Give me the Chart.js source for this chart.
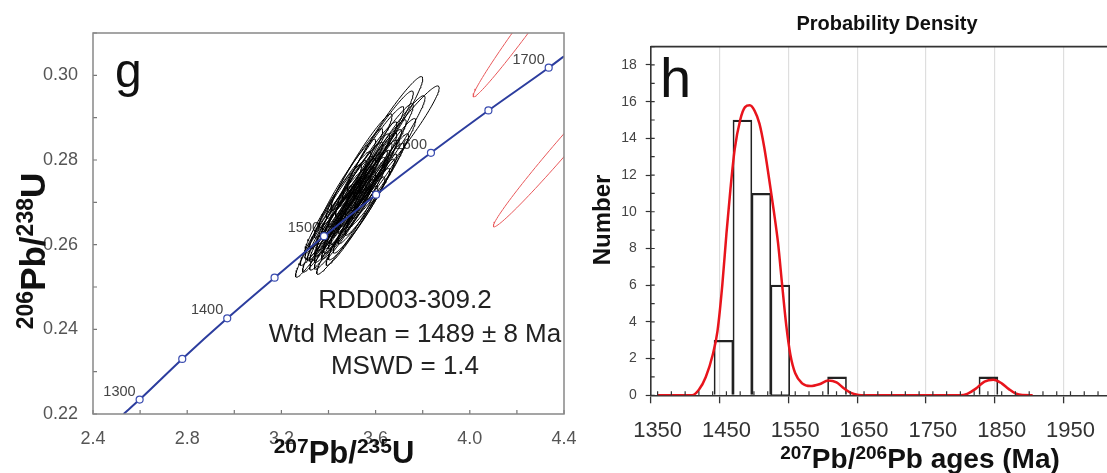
<!DOCTYPE html>
<html>
<head>
<meta charset="utf-8">
<script src="https://cdn.jsdelivr.net/npm/chart.js@4.4.1/dist/chart.umd.min.js"></script>
<style>
  html, body { margin: 0; padding: 0; background: #fff; overflow: hidden; }
  #wrap { position: relative; width: 1107px; height: 473px; overflow: hidden; }
  #concordia { position: absolute; left: 0; top: 0; }
  #histo { position: absolute; left: 585px; top: 0; }
</style>
</head>
<body>
<div id="wrap">
  <canvas id="concordia" width="585" height="473"></canvas>
  <canvas id="histo" width="522" height="473"></canvas>
</div>
<script>
// ---- panel g : concordia diagram ----
const concAges = [1300, 1350, 1400, 1450, 1500, 1550, 1600, 1650, 1700];
const concX = [2.598, 2.779, 2.970, 3.171, 3.381, 3.602, 3.835, 4.079, 4.335];
const concY = [0.2234, 0.2330, 0.2426, 0.2522, 0.2620, 0.2718, 0.2817, 0.2917, 0.3018];
const concStart = [2.53, 0.2200];
const concEnd = [4.40, 0.3045];

// analysed grains (2 sigma ellipses): 207Pb/235U, 206Pb/238U and their errors
const grainX = [3.40, 3.47, 3.44, 3.50, 3.41, 3.46, 3.52, 3.43, 3.49, 3.47,
                3.54, 3.44, 3.51, 3.49, 3.56, 3.46, 3.53, 3.58, 3.50, 3.55,
                3.48, 3.60, 3.53, 3.57, 3.51, 3.62, 3.56, 3.60, 3.54, 3.64,
                3.58, 3.62, 3.64, 3.70, 3.61, 3.66, 3.45, 3.52, 3.48, 3.55,
                3.50, 3.57, 3.42, 3.39, 3.37, 3.46, 3.59, 3.53, 3.47, 3.43];
const grainY = [0.2630, 0.2628, 0.2640, 0.2645, 0.2652, 0.2660, 0.2662, 0.2672, 0.2675, 0.2685,
                0.2680, 0.2695, 0.2698, 0.2708, 0.2702, 0.2718, 0.2720, 0.2718, 0.2732, 0.2738,
                0.2745, 0.2740, 0.2752, 0.2760, 0.2768, 0.2762, 0.2778, 0.2785, 0.2795, 0.2790,
                0.2808, 0.2815, 0.2862, 0.2850, 0.2835, 0.2830, 0.2668, 0.2690, 0.2660, 0.2725,
                0.2715, 0.2745, 0.2685, 0.2645, 0.2618, 0.2640, 0.2768, 0.2700, 0.2705, 0.2656];
const grainSx = [0.11, 0.12, 0.12, 0.11, 0.10, 0.12, 0.12, 0.13, 0.11, 0.12,
                 0.12, 0.12, 0.13, 0.11, 0.12, 0.12, 0.12, 0.11, 0.13, 0.12,
                 0.12, 0.12, 0.13, 0.12, 0.12, 0.12, 0.13, 0.13, 0.13, 0.13,
                 0.14, 0.14, 0.16, 0.17, 0.15, 0.15, 0.11, 0.12, 0.11, 0.11,
                 0.12, 0.12, 0.12, 0.11, 0.11, 0.12, 0.12, 0.12, 0.12, 0.11];
const grainSy = [0.0095, 0.0098, 0.0100, 0.0094, 0.0090, 0.0102, 0.0098, 0.0106, 0.0096, 0.0100,
                 0.0100, 0.0104, 0.0108, 0.0096, 0.0100, 0.0102, 0.0104, 0.0096, 0.0110, 0.0102,
                 0.0104, 0.0100, 0.0110, 0.0104, 0.0106, 0.0100, 0.0112, 0.0110, 0.0114, 0.0108,
                 0.0118, 0.0118, 0.0135, 0.0125, 0.0128, 0.0122, 0.0096, 0.0100, 0.0094, 0.0098,
                 0.0100, 0.0102, 0.0104, 0.0094, 0.0095, 0.0098, 0.0104, 0.0100, 0.0104, 0.0096];
const grainRho = 0.962;

// rejected grains (red)
const rejX = [4.26, 4.40];
const rejY = [0.3135, 0.2835];
const rejSx = [0.246, 0.30];
const rejSy = [0.0186, 0.0193];
const rejRho = 0.99;

const gXLabels = [2.4, 2.8, 3.2, 3.6, 4.0, 4.4];
const gYLabels = [0.22, 0.24, 0.26, 0.28, 0.30];

// ---- panel h : histogram + probability density ----
const binCenters = [1445.75, 1473.25, 1500.75, 1528.25, 1555.75, 1583.25, 1610.75, 1638.25,
                    1665.75, 1693.25, 1720.75, 1748.25, 1775.75, 1803.25, 1830.75];
const binCounts = [3, 15, 11, 6, 0, 0, 1, 0, 0, 0, 0, 0, 0, 0, 1];

const pdfAges = [1350, 1400, 1410, 1420, 1430, 1437, 1444, 1450, 1456, 1462, 1470, 1477, 1484, 1491, 1498, 1505, 1512, 1519,
                 1525, 1531, 1537, 1543, 1550, 1560, 1572, 1585, 1598, 1610, 1620, 1630, 1642, 1650, 1790, 1800, 1812,
                 1825, 1838, 1850, 1860, 1870, 1880, 1895];
const pdfValues = [0, 0, 0.3, 1.0, 2.2, 3.5, 6.0, 8.8, 11.3, 13.4, 15.0, 15.7, 15.8, 15.5, 14.8, 13.5, 11.8, 10.0,
                   8.3, 6.0, 3.8, 2.2, 1.2, 0.65, 0.5, 0.6, 0.8, 0.7, 0.4, 0.15, 0.02, 0, 0, 0.08, 0.35,
                   0.75, 0.85, 0.65, 0.35, 0.1, 0.01, 0];

const hXLabels = [1350, 1450, 1550, 1650, 1750, 1850, 1950];
const hYLabels = [0, 2, 4, 6, 8, 10, 12, 14, 16, 18];

const FAMILY = '"Liberation Sans", Arial, sans-serif';
Chart.defaults.font.family = FAMILY;
const CLEAR = 'rgba(0,0,0,0)';

function ellipsePoints(cx, cy, sx, sy, rho) {
  const pts = [], phi = Math.acos(rho);
  for (let i = 0; i <= 120; i++) {
    const t = i / 120 * 2 * Math.PI;
    pts.push({x: cx + sx * Math.cos(t), y: cy + sy * Math.cos(t - phi)});
  }
  return pts;
}

function hasLabel(list, v) {
  return list.some(l => Math.abs(l - v) < 1e-6);
}

// keep the plot area where the layout padding puts it
function noOverflow(s) {
  s.paddingLeft = 0; s.paddingRight = 0; s.paddingTop = 0; s.paddingBottom = 0;
}

// text with superscript parts
function drawRich(ctx, item) {
  const weight = item.weight || 'normal';
  const segs = item.parts.map(p => {
    const font = `${weight} ${p.sup ? item.sup : item.size}px ${FAMILY}`;
    ctx.font = font;
    return {text: p.t, sup: p.sup, font, width: ctx.measureText(p.t).width};
  });
  const total = segs.reduce((s, g) => s + g.width, 0);
  ctx.save();
  ctx.translate(item.x, item.y);
  if (item.rotate) ctx.rotate(item.rotate);
  ctx.fillStyle = item.color || '#000';
  ctx.textBaseline = 'alphabetic';
  ctx.textAlign = 'left';
  let x = item.align === 'left' ? 0 : -total / 2;
  segs.forEach(g => {
    ctx.font = g.font;
    ctx.fillText(g.text, x, g.sup ? -item.size * 0.33 : 0);
    x += g.width;
  });
  ctx.restore();
}

const textPlugin = {
  id: 'texts',
  afterDraw(chart, args, opts) {
    (opts.items || []).forEach(it => drawRich(chart.ctx, it));
  }
};

const innerTicks = {
  id: 'innerTicks',
  afterDraw(chart, args, opts) {
    const {ctx, chartArea: a, scales} = chart;
    ctx.save();
    ctx.strokeStyle = opts.color;
    ctx.lineWidth = opts.width;
    ctx.beginPath();
    scales.x.ticks.forEach(t => {
      const p = scales.x.getPixelForValue(t.value);
      ctx.moveTo(p, a.bottom); ctx.lineTo(p, a.bottom - opts.length);
    });
    scales.y.ticks.forEach(t => {
      const p = scales.y.getPixelForValue(t.value);
      ctx.moveTo(a.left, p); ctx.lineTo(a.left + opts.length, p);
    });
    ctx.stroke();
    ctx.restore();
  }
};

const frame = {
  id: 'frame',
  afterDraw(chart, args, opts) {
    const {ctx, chartArea: a} = chart;
    ctx.save();
    ctx.strokeStyle = opts.color;
    ctx.lineWidth = opts.width;
    ctx.beginPath();
    if (opts.full) {
      ctx.rect(a.left, a.top, a.right - a.left, a.bottom - a.top);
    } else {
      ctx.moveTo(a.left, a.top); ctx.lineTo(a.right, a.top);
    }
    ctx.stroke();
    ctx.restore();
  }
};

// age labels next to the concordia markers
const ageLabels = {
  id: 'ageLabels',
  beforeDatasetsDraw(chart) {
    const {ctx, scales} = chart;
    ctx.save();
    ctx.font = `14.5px ${FAMILY}`;
    ctx.fillStyle = '#444';
    ctx.textAlign = 'right';
    ctx.textBaseline = 'middle';
    concAges.forEach((age, i) => {
      if (age % 100 !== 0) return;
      const px = scales.x.getPixelForValue(concX[i]);
      const py = scales.y.getPixelForValue(concY[i]);
      ctx.fillText(String(age), px - 4, py - 8);
    });
    ctx.restore();
  }
};

// ---------- chart g ----------
const concData = [{x: concStart[0], y: concStart[1]}]
  .concat(concX.map((x, i) => ({x, y: concY[i]})))
  .concat([{x: concEnd[0], y: concEnd[1]}]);

const gDatasets = [{
  label: 'Concordia',
  data: concData,
  showLine: true,
  borderColor: '#2c3d9e',
  borderWidth: 2,
  cubicInterpolationMode: 'monotone',
  pointRadius: concData.map((p, i) => (i === 0 || i === concData.length - 1) ? 0 : 3.5),
  pointBackgroundColor: '#fff',
  pointBorderColor: '#3a4cb0',
  pointBorderWidth: 1.2
}];
grainX.forEach((x, i) => {
  gDatasets.push({
    data: ellipsePoints(x, grainY[i], grainSx[i], grainSy[i], grainRho),
    showLine: true, pointRadius: 0, borderColor: '#000', borderWidth: 1, tension: 0
  });
});
rejX.forEach((x, i) => {
  gDatasets.push({
    data: ellipsePoints(x, rejY[i], rejSx[i], rejSy[i], rejRho),
    showLine: true, pointRadius: 0, borderColor: '#e8585a', borderWidth: 1, tension: 0
  });
});

new Chart(document.getElementById('concordia'), {
  type: 'scatter',
  data: {datasets: gDatasets},
  options: {
    responsive: false,
    animation: false,
    layout: {padding: {top: 33, right: 21, left: 0, bottom: 0}},
    plugins: {
      legend: {display: false},
      tooltip: {enabled: false},
      innerTicks: {color: '#777', width: 1.2, length: 4},
      frame: {color: '#888', width: 1.5, full: true},
      texts: {items: [
        {parts: [{t: 'g'}], x: 115, y: 87, size: 48, align: 'left', color: '#111'},
        {parts: [{t: '206', sup: true}, {t: 'Pb/'}, {t: '238', sup: true}, {t: 'U'}],
          x: 45, y: 251, size: 35, sup: 23, weight: 'bold', rotate: -Math.PI / 2, color: '#111'},
        {parts: [{t: '207', sup: true}, {t: 'Pb/'}, {t: '235', sup: true}, {t: 'U'}],
          x: 344, y: 463, size: 31, sup: 21, weight: 'bold', color: '#111'},
        {parts: [{t: 'RDD003-309.2'}], x: 405, y: 308, size: 26, color: '#222'},
        {parts: [{t: 'Wtd Mean = 1489 \u00b1 8 Ma'}], x: 415, y: 341.5, size: 26, color: '#222'},
        {parts: [{t: 'MSWD = 1.4'}], x: 405, y: 373.5, size: 26, color: '#222'}
      ]}
    },
    scales: {
      x: {
        type: 'linear', min: 2.4, max: 4.4,
        afterBuildTicks: s => { s.ticks = []; for (let k = 0; k <= 10; k++) s.ticks.push({value: +(2.4 + 0.2 * k).toFixed(1)}); },
        afterFit: s => { s.height = 59; noOverflow(s); },
        ticks: {autoSkip: false, maxRotation: 0, minRotation: 0, padding: 14, color: '#555', font: {size: 18},
          callback: v => hasLabel(gXLabels, v) ? v.toFixed(1) : ''},
        grid: {drawOnChartArea: false, drawTicks: false},
        border: {display: false}
      },
      y: {
        type: 'linear', min: 0.22, max: 0.31,
        afterBuildTicks: s => { s.ticks = []; for (let k = 0; k <= 9; k++) s.ticks.push({value: +(0.22 + 0.01 * k).toFixed(2)}); },
        afterFit: s => { s.width = 93; noOverflow(s); },
        ticks: {autoSkip: false, padding: 15, color: '#555', font: {size: 18},
          callback: v => hasLabel(gYLabels, v) ? v.toFixed(2) : ''},
        grid: {drawOnChartArea: false, drawTicks: false},
        border: {display: false}
      }
    }
  },
  plugins: [ageLabels, innerTicks, frame, textPlugin]
});

// ---------- chart h ----------
new Chart(document.getElementById('histo'), {
  type: 'bar',
  data: {
    datasets: [{
      type: 'line',
      label: 'Probability density',
      data: pdfAges.map((a, i) => ({x: a, y: pdfValues[i]})),
      borderColor: '#e8141c',
      borderWidth: 2.5,
      pointRadius: 0,
      cubicInterpolationMode: 'monotone',
      fill: false
    }, {
      type: 'bar',
      label: 'Number',
      data: binCenters.map((c, i) => ({x: c, y: binCounts[i]})),
      backgroundColor: CLEAR,
      borderColor: '#222',
      borderSkipped: false,
      borderWidth: c => (c.raw && c.raw.y > 0) ? {top: 1.6, left: 1, right: 1, bottom: 0} : 0,
      barThickness: 'flex',
      barPercentage: 1,
      categoryPercentage: 1
    }]
  },
  options: {
    responsive: false,
    animation: false,
    layout: {padding: {top: 46.6, right: 0, left: 0, bottom: 0}},
    plugins: {
      legend: {display: false},
      tooltip: {enabled: false},
      innerTicks: {color: '#333', width: 1.2, length: 4},
      frame: {color: '#333', width: 1.6, full: false},
      texts: {items: [
        {parts: [{t: 'h'}], x: 75, y: 97, size: 56, align: 'left', color: '#111'},
        {parts: [{t: 'Probability Density'}], x: 302, y: 30, size: 20, weight: 'bold', color: '#111'},
        {parts: [{t: 'Number'}], x: 25, y: 220, size: 24, weight: 'bold', rotate: -Math.PI / 2, color: '#111'},
        {parts: [{t: '207', sup: true}, {t: 'Pb/'}, {t: '206', sup: true}, {t: 'Pb ages (Ma)'}],
          x: 335, y: 468, size: 28, sup: 19, weight: 'bold', color: '#111'}
      ]}
    },
    scales: {
      x: {
        type: 'linear', min: 1350, max: 1993,
        afterBuildTicks: s => { s.ticks = []; for (let v = 1350; v <= 1993; v += 20) s.ticks.push({value: v}); },
        afterFit: s => { s.height = 77.7; noOverflow(s); },
        ticks: {autoSkip: false, maxRotation: 0, minRotation: 0, padding: 14, color: '#333', font: {size: 22},
          callback: v => hasLabel(hXLabels, v) ? String(v) : ''},
        grid: {
          color: c => (c.tick && hasLabel(hXLabels, c.tick.value) && c.tick.value > 1350) ? '#dedede' : CLEAR,
          lineWidth: 1.2, tickLength: 8, tickWidth: 1.3,
          tickColor: c => (c.tick && hasLabel(hXLabels, c.tick.value)) ? '#333' : CLEAR
        },
        border: {color: '#333', width: 1.6}
      },
      y: {
        type: 'linear', min: 0, max: 19,
        afterBuildTicks: s => { s.ticks = []; for (let v = 0; v <= 19; v++) s.ticks.push({value: v}); },
        afterFit: s => { s.width = 65.7; noOverflow(s); },
        ticks: {autoSkip: false, padding: 9, color: '#444', font: {size: 14},
          callback: v => hasLabel(hYLabels, v) ? String(v) : ''},
        grid: {
          drawOnChartArea: false, tickLength: 5, tickWidth: 1.2,
          tickColor: c => (c.tick && hasLabel(hYLabels, c.tick.value)) ? '#333' : CLEAR
        },
        border: {color: '#333', width: 1.6}
      }
    }
  },
  plugins: [innerTicks, frame, textPlugin]
});
</script>
</body>
</html>
